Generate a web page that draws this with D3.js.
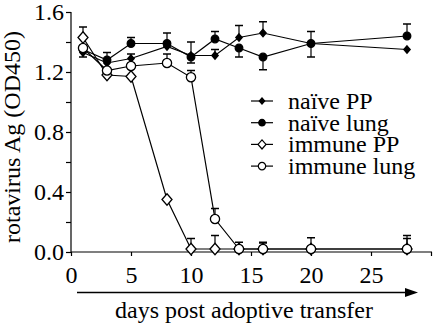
<!DOCTYPE html>
<html>
<head>
<meta charset="utf-8">
<script src="https://cdn.jsdelivr.net/npm/d3@7"></script>
</head>
<body style="margin:0">
<svg id="chart" width="435" height="324"></svg>
<script>
// days after transfer
const days = [1, 3, 5, 8, 10, 12, 14, 16, 20, 28];

// OD450 readings
const naivePP    = [1.33, 1.26, 1.29, 1.37, 1.31, 1.31, 1.43, 1.46, 1.39, 1.35];
const naiveLung  = [1.35, 1.28, 1.39, 1.39, 1.30, 1.42, 1.36, 1.30, 1.39, 1.44];
const immunePP   = [1.43, 1.18, 1.17, 0.35, 0.02, 0.02, 0.02, 0.02, 0.02, 0.02];
const immuneLung = [1.36, 1.21, 1.24, 1.26, 1.165, 0.22, 0.02, 0.02, 0.02, 0.02];

// one-sided error bars (+ drawn up, - drawn down, 0 none)
const naivePPErr    = [-0.03, 0, 0.03, 0, 0.09, 0.04, 0.08, 0.075, 0.08, 0];
const naiveLungErr  = [0, 0.05, 0.04, 0.07, -0.04, 0.05, -0.06, -0.085, -0.09, 0.08];
const immunePPErr   = [0.07, 0, 0, 0, 0.07, 0.09, 0, 0.04, 0, 0.07];
const immuneLungErr = [0, 0, 0, 0.06, 0.045, 0.07, 0.045, 0.045, 0.075, 0.09];

const seriesNames = ["naïve PP", "naïve lung", "immune PP", "immune lung"];
const yTicks = [0, 0.2, 0.4, 0.6, 0.8, 1.0, 1.2, 1.4, 1.6];
const xTicks = [0, 5, 10, 15, 20, 25, 30];

const FONT = '"Liberation Serif"';

const series = [
  { name: seriesNames[0], values: naivePP, err: naivePPErr, shape: "diamond", filled: true, size: 3.2 },
  { name: seriesNames[1], values: naiveLung, err: naiveLungErr, shape: "circle", filled: true, size: 3.8 },
  { name: seriesNames[2], values: immunePP, err: immunePPErr, shape: "diamond", filled: false, size: 5 },
  { name: seriesNames[3], values: immuneLung, err: immuneLungErr, shape: "circle", filled: false, size: 4.6 }
];

const svg = d3.select("#chart");

const x = d3.scaleLinear().domain([0, 30]).range([71, 431]);
const y = d3.scaleLinear().domain([0, 1.6]).range([252, 12]);

function styleAxis(g) {
  g.selectAll("path, line").attr("stroke", "#000").attr("stroke-width", 1.2);
  g.selectAll("text").style("font-family", FONT).style("font-size", "24px").attr("fill", "#000");
}

// axes
const yAxis = d3.axisLeft(y).tickValues(yTicks).tickSize(5).tickPadding(3)
  .tickFormat(d => (Math.round(d * 10) % 4 === 0) ? d3.format(".1f")(d) : "");
svg.append("g").attr("transform", "translate(71,0)")
  .call(yAxis)
  .call(g => g.select(".domain").attr("d", "M0,12V252"))
  .call(styleAxis)
  .selectAll("text").attr("x", -7);

const xAxis = d3.axisBottom(x).tickValues(xTicks).tickSize(4).tickPadding(10)
  .tickFormat(d => d < 30 ? d : "");
svg.append("g").attr("transform", "translate(0,252)")
  .call(xAxis)
  .call(g => g.select(".domain").attr("d", "M71,0H432"))
  .call(styleAxis);

// marker path
function markerPath(shape, s) {
  if (shape === "diamond") {
    return `M0,${-s * 1.15}L${s},0L0,${s * 1.15}L${-s},0Z`;
  }
  return d3.arc()({ innerRadius: 0, outerRadius: s, startAngle: 0, endAngle: 2 * Math.PI });
}

const line = d3.line().x(d => x(d[0])).y(d => y(d[1]));

// error bars
series.forEach(s => {
  const g = svg.append("g");
  days.forEach((d, i) => {
    const e = s.err[i];
    if (!e) return;
    const cx = x(d), y0 = y(s.values[i]), y1 = y(s.values[i] + e);
    g.append("line").attr("x1", cx).attr("x2", cx).attr("y1", y0).attr("y2", y1)
      .attr("stroke", "#000").attr("stroke-width", 1.2);
    g.append("line").attr("x1", cx - 4).attr("x2", cx + 4).attr("y1", y1).attr("y2", y1)
      .attr("stroke", "#000").attr("stroke-width", 1.5);
  });
});

// lines
series.forEach(s => {
  svg.append("path")
    .datum(days.map((d, i) => [d, s.values[i]]))
    .attr("fill", "none").attr("stroke", "#000").attr("stroke-width", 1.2)
    .attr("d", line);
});

// markers
series.forEach(s => {
  svg.append("g").selectAll("path")
    .data(days.map((d, i) => [d, s.values[i]]))
    .enter().append("path")
    .attr("transform", d => `translate(${x(d[0])},${y(d[1])})`)
    .attr("d", markerPath(s.shape, s.size))
    .attr("fill", s.filled ? "#000" : "#fff")
    .attr("stroke", "#000").attr("stroke-width", 1.3);
});

// legend
const legend = svg.append("g").attr("transform", "translate(251,101)");
series.forEach((s, i) => {
  const row = legend.append("g").attr("transform", `translate(0,${i * 21.7})`);
  row.append("line").attr("x1", 0).attr("x2", 22).attr("stroke", "#000").attr("stroke-width", 1.2);
  row.append("path").attr("transform", "translate(11,0)")
    .attr("d", markerPath(s.shape, s.filled ? s.size * 0.85 : s.size * 0.8))
    .attr("fill", s.filled ? "#000" : "#fff").attr("stroke", "#000").attr("stroke-width", 1.2);
  row.append("text").attr("x", 37).attr("dy", "0.33em")
    .style("font-family", FONT).style("font-size", "24px").text(s.name);
});

// y title
svg.append("text")
  .attr("transform", "translate(20,137) rotate(-90)")
  .attr("text-anchor", "middle")
  .style("font-family", FONT).style("font-size", "24px")
  .text("rotavirus Ag (OD450)");

// time arrow
svg.append("line").attr("x1", x(0.5)).attr("x2", 406).attr("y1", 292.5).attr("y2", 292.5)
  .attr("stroke", "#000").attr("stroke-width", 1.6);
svg.append("path").attr("d", "M405,288L418,292.5L405,297Z").attr("fill", "#000");

// x title
svg.append("text")
  .attr("x", 244).attr("y", 318)
  .attr("text-anchor", "middle")
  .style("font-family", FONT).style("font-size", "24px")
  .text("days post adoptive transfer");
</script>
</body>
</html>
